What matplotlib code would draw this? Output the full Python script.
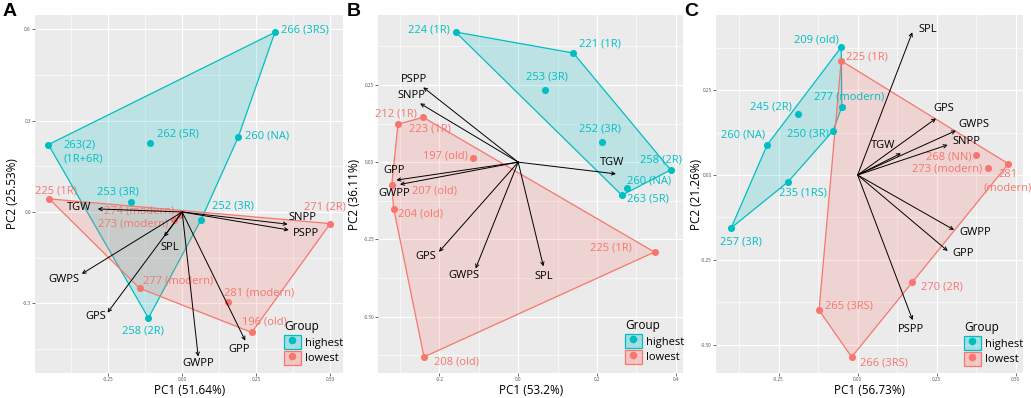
import matplotlib
matplotlib.use("Agg")
import matplotlib.pyplot as plt
import numpy as np
from matplotlib.lines import Line2D
from matplotlib.patches import Patch, Polygon
from matplotlib.colors import to_rgba
from matplotlib.ticker import AutoMinorLocator

plt.rcParams["font.family"] = ["Open Sans", "DejaVu Sans"]

HIGH = "#00BFC4"
LOW = "#F8766D"

# ---------------- data: panel A ----------------
a_high_names = ["266 (3RS)", "263(2)\n(1R+6R)", "262 (5R)", "260 (NA)", "253 (3R)", "252 (3R)", "258 (2R)"]
a_high_pc1 = [0.313, -0.452, -0.110, 0.189, -0.173, 0.064, -0.114]
a_high_pc2 = [0.589, 0.221, 0.225, 0.245, 0.033, -0.025, -0.348]
a_low_names = ["225 (1R)", "274 (modern)", "273 (modern)", "271 (2R)", "277 (modern)", "281 (modern)", "196 (old)"]
a_low_pc1 = [-0.449, -0.009, -0.027, 0.500, -0.144, 0.153, 0.235]
a_low_pc2 = [0.043, -0.011, -0.026, -0.038, -0.250, -0.294, -0.395]
a_vars = ["TGW", "SNPP", "PSPP", "SPL", "GWPS", "GPS", "GWPP", "GPP"]
a_load_pc1 = [-0.285, 0.356, 0.360, -0.061, -0.339, -0.252, 0.054, 0.213]
a_load_pc2 = [0.010, -0.040, -0.059, -0.081, -0.203, -0.330, -0.474, -0.422]
a_xticks = [-0.25, 0.0, 0.25, 0.50]
a_xticklabels = ["-0.25", "0.00", "0.25", "0.50"]
a_yticks = [-0.3, 0.0, 0.3, 0.6]
a_yticklabels = ["-0.3", "0.0", "0.3", "0.6"]

# ---------------- data: panel B ----------------
b_high_names = ["224 (1R)", "221 (1R)", "253 (3R)", "252 (3R)", "258 (2R)", "260 (NA)", "263 (5R)"]
b_high_pc1 = [-0.159, 0.140, 0.067, 0.212, 0.387, 0.276, 0.263]
b_high_pc2 = [0.421, 0.353, 0.235, 0.065, -0.025, -0.085, -0.107]
b_low_names = ["212 (1R)", "223 (1R)", "197 (old)", "207 (old)", "204 (old)", "225 (1R)", "208 (old)"]
b_low_pc1 = [-0.305, -0.241, -0.115, -0.321, -0.316, 0.346, -0.239]
b_low_pc2 = [0.123, 0.145, 0.014, -0.075, -0.150, -0.291, -0.630]
b_vars = ["PSPP", "SNPP", "GPP", "GWPP", "TGW", "GPS", "GWPS", "SPL"]
b_load_pc1 = [-0.241, -0.249, -0.309, -0.300, 0.248, -0.201, -0.108, 0.064]
b_load_pc2 = [0.242, 0.190, -0.058, -0.072, -0.038, -0.290, -0.344, -0.337]
b_xticks = [-0.2, 0.0, 0.2, 0.4]
b_xticklabels = ["-0.2", "0.0", "0.2", "0.4"]
b_yticks = [-0.50, -0.25, 0.0, 0.25]
b_yticklabels = ["-0.50", "-0.25", "0.00", "0.25"]

# ---------------- data: panel C ----------------
c_high_names = ["209 (old)", "277 (modern)", "245 (2R)", "250 (3R)", "260 (NA)", "235 (1RS)", "257 (3R)"]
c_high_pc1 = [-0.052, -0.050, -0.189, -0.078, -0.286, -0.220, -0.400]
c_high_pc2 = [0.377, 0.201, 0.179, 0.130, 0.089, -0.020, -0.156]
c_low_names = ["225 (1R)", "268 (NN)", "273 (modern)", "281\n(modern)", "270 (2R)", "265 (3RS)", "266 (3RS)"]
c_low_pc1 = [-0.052, 0.375, 0.412, 0.477, 0.173, -0.122, -0.019]
c_low_pc2 = [0.337, 0.058, 0.020, 0.033, -0.315, -0.399, -0.537]
c_vars = ["SPL", "GPS", "GWPS", "SNPP", "TGW", "GWPP", "GPP", "PSPP"]
c_load_pc1 = [0.173, 0.248, 0.311, 0.285, 0.137, 0.305, 0.285, 0.174]
c_load_pc2 = [0.421, 0.167, 0.131, 0.089, 0.064, -0.162, -0.224, -0.428]
c_xticks = [-0.25, 0.0, 0.25, 0.50]
c_xticklabels = ["-0.25", "0.00", "0.25", "0.50"]
c_yticks = [-0.50, -0.25, 0.0, 0.25]
c_yticklabels = ["-0.50", "-0.25", "0.00", "0.25"]

# ---------------- layout (pixel offsets of text, dx, dy-down, ha) ----------------
a_high_off = [(6, -2, "left"), (15, 7.3, "left"), (7.4, -9.3, "left"), (7.3, -1.6, "left"),
              (-13, -10.3, "center"), (11.3, -14, "left"), (-5.6, 12.7, "center")]
a_low_off = [(6.8, -8.3, "center"), (-5.3, -4.6, "right"), (-5.7, 4.3, "right"), (-5.3, -17, "center"),
             (3.4, -7.6, "left"), (-3.3, -9, "left"), (-9.4, -10.6, "left")]
a_var_off = [(-18.4, -1.7), (14.4, -6.6), (17.3, 3.3), (6, 11), (-18.4, 5.3), (-11.6, 4), (0, 7), (-6.3, 8.6)]

b_high_off = [(-5.7, -2, "right"), (5.4, -8.7, "left"), (2.3, -13, "center"), (-2, -13, "center"),
              (-10.2, -9.7, "center"), (-0.3, -7.6, "left"), (4.7, 3.4, "left")]
b_low_off = [(-2, -10.3, "center"), (6.5, 12, "center"), (-4.7, -2, "right"), (20.3, 5.4, "left"),
             (4.3, 5, "left"), (-22.4, -3.7, "right"), (9.7, 5, "left")]
b_var_off = [(-9.6, -8.3), (-8.3, -7.6), (-2.7, -10), (-5.7, 9), (-4.3, -11.4), (-13.3, 5), (-11.4, 7.4), (0, 9.7)]

c_high_off = [(-2.6, -7.6, "right"), (6.8, -10, "center"), (-6.3, -7.6, "right"), (-4, 2.7, "right"),
              (-24.5, -9.4, "center"), (15.2, 11, "center"), (9.5, 14, "center")]
c_low_off = [(4.7, -3.4, "left"), (-4.6, 2, "right"), (-6, 0.4, "right"), (-0.6, 17.8, "center"),
             (9, 5, "left"), (6.3, -4, "left"), (8.6, 5.7, "left")]
c_var_off = [(15.2, -2.3), (8, -9.6), (18.3, -6), (19, -3.7), (-17.7, -8.3), (21, 2.3), (15.6, 2.3), (-1.7, 9)]

W, H = 1031, 398


def hull(xs, ys):
    pts = sorted(zip(xs, ys))

    def cross(o, a, b):
        return (a[0] - o[0]) * (b[1] - o[1]) - (a[1] - o[1]) * (b[0] - o[0])

    lower, upper = [], []
    for p in pts:
        while len(lower) >= 2 and cross(lower[-2], lower[-1], p) <= 0:
            lower.pop()
        lower.append(p)
    for p in reversed(pts):
        while len(upper) >= 2 and cross(upper[-2], upper[-1], p) <= 0:
            upper.pop()
        upper.append(p)
    return np.array(lower[:-1] + upper[:-1])


def draw_panel(ax, letter, high, low, loads, ticks, limits, labels, offs, legend_px):
    ax.set_facecolor("#EBEBEB")
    for s in ax.spines.values():
        s.set_visible(False)
    ax.set_xlim(*limits[0])
    ax.set_ylim(*limits[1])
    ax.set_xticks(ticks[0], ticks[1])
    ax.set_yticks(ticks[2], ticks[3])
    ax.xaxis.set_minor_locator(AutoMinorLocator(2))
    ax.yaxis.set_minor_locator(AutoMinorLocator(2))
    ax.grid(which="major", color="white", lw=0.9)
    ax.grid(which="minor", color="white", lw=0.45)
    ax.set_axisbelow(True)
    ax.tick_params(which="major", length=2, width=0.5, color="#333333", labelsize=3.3,
                   labelcolor="#4D4D4D", pad=1)
    ax.tick_params(which="minor", length=0)

    for (names, xs, ys), color, off in ((high, HIGH, offs[0]), (low, LOW, offs[1])):
        poly = hull(xs, ys)
        ax.add_patch(Polygon(poly, closed=True, facecolor=to_rgba(color, 0.2), edgecolor=color, lw=0.9, zorder=2))
    for (names, xs, ys), color, off in ((high, HIGH, offs[0]), (low, LOW, offs[1])):
        ax.scatter(xs, ys, s=26, color=color, zorder=4, linewidths=0)
        for name, x, y, (dx, dy, ha) in zip(names, xs, ys, off):
            ax.annotate(name, (x, y), xytext=(dx, -dy), textcoords="offset pixels", ha=ha, va="center",
                        color=color, fontsize=8, linespacing=1.3, multialignment=ha, zorder=5)

    vnames, lx, ly = loads
    for name, x, y, (dx, dy) in zip(vnames, lx, ly, offs[2]):
        ax.annotate("", xy=(x, y), xytext=(0, 0),
                    arrowprops=dict(arrowstyle="->", lw=0.7, color="black", shrinkA=0, shrinkB=0,
                                    mutation_scale=6), zorder=6)
        ax.annotate(name, (x, y), xytext=(dx, -dy), textcoords="offset pixels", ha="center", va="center",
                    fontsize=8, color="black", zorder=7)

    ax.set_xlabel(labels[0], fontsize=8.5, color="black")
    ax.set_ylabel(labels[1], fontsize=8.5, color="black")

    bb = ax.get_position()
    ax_w, ax_h = bb.width * W, bb.height * H
    x0_px, y1_px = bb.x0 * W, (1 - bb.y0) * H
    ax.xaxis.set_label_coords(0.5, -(390.5 - y1_px) / ax_h)
    ax.xaxis.label.set_verticalalignment("center")
    ax.yaxis.set_label_coords((labels[2] - x0_px) / ax_w, 0.5)
    ax.yaxis.label.set_verticalalignment("center")

    handles = [
        (Patch(facecolor=to_rgba(HIGH, 0.3), edgecolor=HIGH, lw=0.9),
         Line2D([], [], marker="o", color=HIGH, ls="", ms=5.5, mew=0)),
        (Patch(facecolor=to_rgba(LOW, 0.3), edgecolor=LOW, lw=0.9),
         Line2D([], [], marker="o", color=LOW, ls="", ms=5.5, mew=0)),
    ]
    lx0 = (legend_px[0] - x0_px) / ax_w
    ly0 = (y1_px - legend_px[1]) / ax_h
    leg = ax.legend(handles, ["highest", "lowest"], title="Group", loc="upper left",
                    bbox_to_anchor=(lx0, ly0), frameon=False, borderpad=0, borderaxespad=0,
                    handlelength=1.5, handleheight=1.5, labelspacing=0.2, handletextpad=0.4,
                    prop={"size": 8}, title_fontsize=8.5, alignment="left")
    leg.set_zorder(8)

    ax.figure.text((x0_px - 32) / W, 1 - 3 / H, letter, fontsize=14, fontweight="bold",
                   family="Liberation Sans", ha="left", va="top")


fig = plt.figure(figsize=(W / 100, H / 100), dpi=100)
fig.patch.set_facecolor("white")

panel_px = [(35, 343.3), (378.3, 683.3), (716, 1023.3)]
top_px, bot_px = 15, 373
axes = []
for left, right in panel_px:
    axes.append(fig.add_axes([left / W, (H - bot_px) / H, (right - left) / W, (bot_px - top_px) / H]))

draw_panel(axes[0], "A",
           (a_high_names, a_high_pc1, a_high_pc2), (a_low_names, a_low_pc1, a_low_pc2),
           (a_vars, a_load_pc1, a_load_pc2),
           (a_xticks, a_xticklabels, a_yticks, a_yticklabels),
           ((-0.497, 0.544), (-0.528, 0.646)),
           ("PC1 (51.64%)", "PC2 (25.53%)", 13),
           (a_high_off, a_low_off, a_var_off), (284, 320))
draw_panel(axes[1], "B",
           (b_high_names, b_high_pc1, b_high_pc2), (b_low_names, b_low_pc1, b_low_pc2),
           (b_vars, b_load_pc1, b_load_pc2),
           (b_xticks, b_xticklabels, b_yticks, b_yticklabels),
           ((-0.355, 0.419), (-0.682, 0.476)),
           ("PC1 (53.2%)", "PC2 (36.11%)", 355),
           (b_high_off, b_low_off, b_var_off), (625, 319))
draw_panel(axes[2], "C",
           (c_high_names, c_high_pc1, c_high_pc2), (c_low_names, c_low_pc1, c_low_pc2),
           (c_vars, c_load_pc1, c_load_pc2),
           (c_xticks, c_xticklabels, c_yticks, c_yticklabels),
           ((-0.448, 0.524), (-0.584, 0.472)),
           ("PC1 (56.73%)", "PC2 (21.26%)", 697),
           (c_high_off, c_low_off, c_var_off), (964, 321))

fig.savefig("out.png", dpi=100)
